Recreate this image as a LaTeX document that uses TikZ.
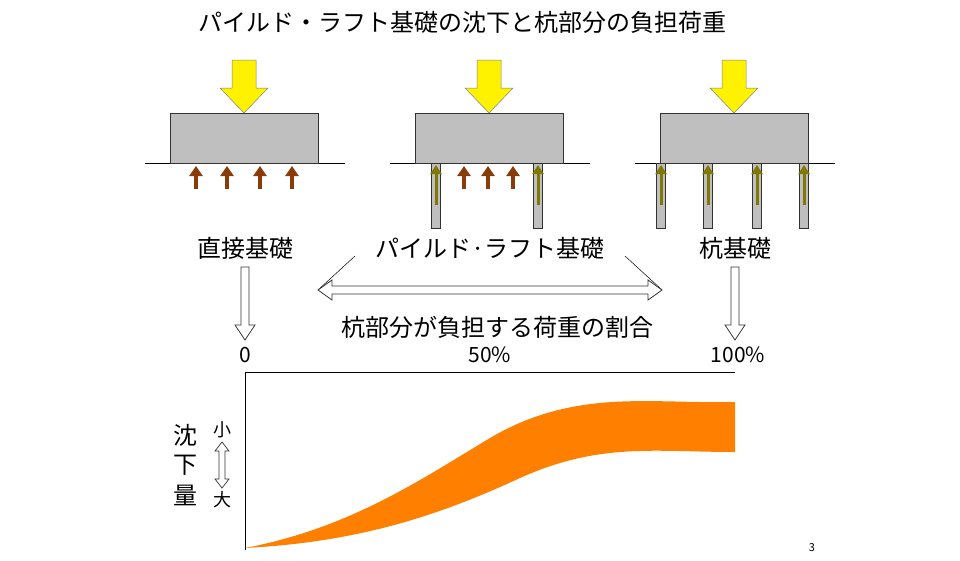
\documentclass[tikz,border=0pt]{standalone}
\usepackage{fontspec}
\setmainfont{Noto Sans CJK JP}
\usetikzlibrary{arrows.meta}
\definecolor{brn}{RGB}{135,60,10}
\definecolor{olv}{RGB}{128,120,0}
\definecolor{org}{RGB}{255,128,0}
\begin{document}
\begin{tikzpicture}[x=1pt,y=-1pt,
  lbl/.style={font=\fontsize{24}{24}\selectfont,inner sep=0pt},
  raft/.style={draw=black!80,fill=black!25,line width=0.8pt},
  pile/.style={draw=black!80,fill=black!25,line width=0.6pt},
  brarrow/.style={brn,line width=4pt,-{Triangle[length=10pt,width=13pt]}},
  olarrow/.style={olv,line width=3pt,-{Triangle[length=9pt,width=11pt]}},
  hollowshape/.style={draw=black!80,fill=white,line width=0.8pt,line join=miter}]
\useasboundingbox (0,0) rectangle (960,560);
\node[lbl] (title) at (462,22) {パイルド・ラフト基礎の沈下と杭部分の負担荷重};
\newcommand\footing[1]{%
  \draw[line width=0.7pt] (#1-25,163) -- (#1+175,163);
  \draw[raft] (#1,113) rectangle (#1+148,163);
  \draw[fill=yellow,draw=black!50,line width=0.5pt] (#1+62,60) -- (#1+86,60) -- (#1+86,88) -- (#1+98,88) -- (#1+74,113) -- (#1+50,88) -- (#1+62,88) -- cycle;
}
% hollow down arrow: x, ytop, ytip
\newcommand\hdown[3]{%
  \draw[hollowshape] (#1-4,#2) -- (#1+4,#2) -- (#1+4,#3-15) -- (#1+10,#3-15) -- (#1,#3) -- (#1-10,#3-15) -- (#1-4,#3-15) -- cycle;}
\footing{170}
\footing{415}
\footing{660}
\foreach \x in {196,227,260,292} \draw[brarrow] (\x,189) -- (\x,166);
\foreach \x in {436,538} {\draw[pile] (\x-4.5,163) rectangle (\x+4.5,228); \draw[olarrow] (\x,205) -- (\x,165);}
\foreach \x in {464,488,513} \draw[brarrow] (\x,189) -- (\x,166);
\foreach \x in {661,708,757,804} {\draw[pile] (\x-4.5,163) rectangle (\x+4.5,228); \draw[olarrow] (\x,205) -- (\x,165);}
\node[lbl] (l1) at (245,248) {直接基礎};
\node[lbl] (l2) at (490,248) {パイルド·ラフト基礎};
\node[lbl] (l3) at (735,248) {杭基礎};
\coordinate (a1) at (318,290);
\coordinate (a2) at (662,290);
\draw[line width=0.5pt] (355,256) -- (a1);
\draw[line width=0.5pt] (625,256) -- (a2);
\draw[hollowshape] (a1) -- (332,280) -- (332,286) -- (648,286) -- (648,280) -- (a2) -- (648,300) -- (648,294) -- (332,294) -- (332,300) -- cycle;
\node[lbl] (ratio) at (497,327) {杭部分が負担する荷重の割合};
\node[lbl,font=\fontsize{21}{21}\selectfont] (p0) at (245,355) {0};
\node[lbl,font=\fontsize{21}{21}\selectfont] (p50) at (490,355) {50\%};
\node[lbl,font=\fontsize{21}{21}\selectfont] (p100) at (738,355) {100\%};
\hdown{245}{267}{340}
\hdown{735}{267}{340}
\draw[line width=0.8pt] (245,550) -- (245,372) -- (735,372);
\fill[org] (245,548) .. controls (350,528) and (420,480) .. (490,438)
  .. controls (575,388) and (650,404) .. (735,402) -- (735,452)
  .. controls (655,452) and (600,442) .. (520,478)
  .. controls (440,515) and (360,542) .. (245,548) -- cycle;
\node[lbl] (y1) at (185,435) {沈};
\node[lbl] (y2) at (185,465) {下};
\node[lbl] (y3) at (185,495) {量};
\node[font=\fontsize{18}{18}\selectfont,inner sep=0pt] (sm) at (222,430) {小};
\node[font=\fontsize{18}{18}\selectfont,inner sep=0pt] (lg) at (222,500) {大};
\draw[hollowshape,line width=0.7pt] (222,442) -- (229,451) -- (225,451) -- (225,479) -- (229,479) -- (222,488) -- (215,479) -- (219,479) -- (219,451) -- (215,451) -- cycle;
\node[font=\fontsize{11}{11}\selectfont,inner sep=0pt] (pg) at (812,548) {3};
\end{tikzpicture}
\end{document}
